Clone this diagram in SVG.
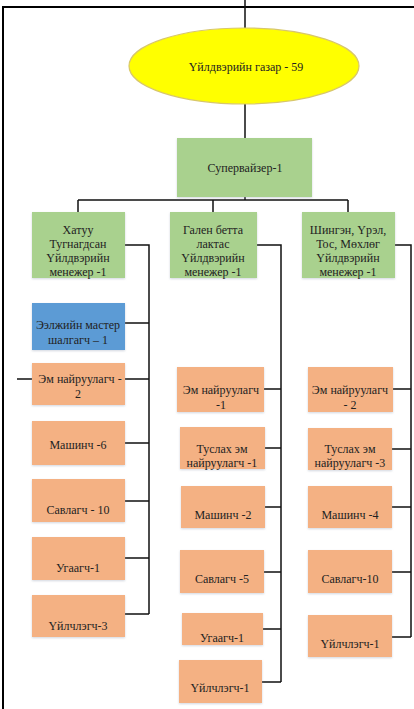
<svg xmlns="http://www.w3.org/2000/svg" width="414" height="709" viewBox="0 0 414 709">
<defs>
<filter id="sh" x="-10%" y="-10%" width="120%" height="125%">
<feDropShadow dx="0" dy="1" stdDeviation="1.2" flood-color="#9aa4b8" flood-opacity="0.45"/>
</filter>
<style>
.t{font-family:"Liberation Serif","Times New Roman",serif;font-size:12px;fill:#222;text-anchor:middle}
.g{fill:#a9d18e}
.o{fill:#f4b183}
.b{fill:#5b9bd5}
.ln{stroke:#111;stroke-width:1.5;fill:none}
.fr{stroke:#000;stroke-width:2;fill:none}
</style>
</defs>
<rect width="414" height="709" fill="#fff"/>
<g id="frame">
<path class="fr" d="M3,709 V7 H414"/>
</g>
<g id="connectors">
<path class="ln" d="M245,0 V28 M245,103 V138 M245,197 V200 M78,200 H348 M78,200 V212 M213,200 V212 M348,200 V212"/>
<path class="ln" d="M125,245 H149 V614 M125,323 H149 M125,379 H149 M17,379 H32 M125,443 H149 M125,501 H149 M125,558 H149 M125,614 H149"/>
<path class="ln" d="M257,245 H281 V682 M264,389 H281 M265,448 H281 M265,507 H281 M264,572 H281 M263,629 H281 M262,682 H281"/>
<path class="ln" d="M395,245 H411 V637 M393,389 H411 M392,449 H411 M392,507 H411 M392,572 H411 M392,637 H411"/>
</g>
<g id="n-root">
<ellipse cx="244" cy="66" rx="115" ry="38" fill="#ffff00" stroke="#d8c76a" stroke-width="1.2"/>
<text class="t" x="246" y="71">Үйлдвэрийн  газар  - 59</text>
</g>
<g id="n-supervisor">
<rect class="g" x="177" y="138" width="135" height="59" filter="url(#sh)"/>
<text class="t" x="245" y="172">Супервайзер-1</text>
</g>
<g id="n-mgr1">
<rect class="g" x="32" y="212" width="93" height="66" filter="url(#sh)"/>
<text class="t" x="78" y="234">Хатуу</text>
<text class="t" x="78" y="248">Тугнагдсан</text>
<text class="t" x="78" y="262">Үйлдвэрийн</text>
<text class="t" x="78" y="276">менежер -1</text>
</g>
<g id="n-mgr2">
<rect class="g" x="170" y="212" width="87" height="66" filter="url(#sh)"/>
<text class="t" x="213" y="234">Гален бетта</text>
<text class="t" x="213" y="248">лактас</text>
<text class="t" x="213" y="262">Үйлдвэрийн</text>
<text class="t" x="213" y="276">менежер -1</text>
</g>
<g id="n-mgr3">
<rect class="g" x="302" y="212" width="93" height="66" filter="url(#sh)"/>
<text class="t" x="348" y="234">Шингэн, Үрэл,</text>
<text class="t" x="348" y="248">Тос, Мөхлөг</text>
<text class="t" x="348" y="262">Үйлдвэрийн</text>
<text class="t" x="348" y="276">менежер -1</text>
</g>
<g id="n-l1">
<rect class="b" x="32" y="303" width="93" height="47" filter="url(#sh)"/>
<text class="t" x="78" y="329">Ээлжийн мастер</text>
<text class="t" x="78" y="344">шалгагч – 1</text>
</g>
<g id="n-l2">
<rect class="o" x="32" y="363" width="93" height="42" filter="url(#sh)"/>
<text class="t" x="80" y="383">Эм найруулагч  -</text>
<text class="t" x="78" y="398">2</text>
</g>
<g id="n-l3">
<rect class="o" x="32" y="421" width="93" height="44" filter="url(#sh)"/>
<text class="t" x="78" y="449">Машинч -6</text>
</g>
<g id="n-l4">
<rect class="o" x="32" y="479" width="93" height="43" filter="url(#sh)"/>
<text class="t" x="78" y="514">Савлагч - 10</text>
</g>
<g id="n-l5">
<rect class="o" x="32" y="537" width="93" height="43" filter="url(#sh)"/>
<text class="t" x="78" y="572">Угаагч-1</text>
</g>
<g id="n-l6">
<rect class="o" x="32" y="595" width="93" height="42" filter="url(#sh)"/>
<text class="t" x="78" y="630">Үйлчлэгч-3</text>
</g>
<g id="n-m1">
<rect class="o" x="177" y="367" width="87" height="45" filter="url(#sh)"/>
<text class="t" x="221" y="394">Эм найруулагч</text>
<text class="t" x="221" y="409">-1</text>
</g>
<g id="n-m2">
<rect class="o" x="180" y="427" width="85" height="42" filter="url(#sh)"/>
<text class="t" x="222" y="453">Туслах эм</text>
<text class="t" x="222" y="467">найруулагч -1</text>
</g>
<g id="n-m3">
<rect class="o" x="181" y="486" width="84" height="42" filter="url(#sh)"/>
<text class="t" x="223" y="519">Машинч -2</text>
</g>
<g id="n-m4">
<rect class="o" x="180" y="550" width="84" height="43" filter="url(#sh)"/>
<text class="t" x="222" y="583">Савлагч -5</text>
</g>
<g id="n-m5">
<rect class="o" x="182" y="613" width="81" height="32" filter="url(#sh)"/>
<text class="t" x="222" y="642">Угаагч-1</text>
</g>
<g id="n-m6">
<rect class="o" x="179" y="660" width="83" height="43" filter="url(#sh)"/>
<text class="t" x="220" y="692">Үйлчлэгч-1</text>
</g>
<g id="n-r1">
<rect class="o" x="308" y="367" width="85" height="45" filter="url(#sh)"/>
<text class="t" x="350" y="394">Эм найруулагч</text>
<text class="t" x="350" y="409">- 2</text>
</g>
<g id="n-r2">
<rect class="o" x="308" y="428" width="84" height="42" filter="url(#sh)"/>
<text class="t" x="350" y="453">Туслах эм</text>
<text class="t" x="350" y="467">найруулагч -3</text>
</g>
<g id="n-r3">
<rect class="o" x="308" y="486" width="84" height="42" filter="url(#sh)"/>
<text class="t" x="350" y="519">Машинч -4</text>
</g>
<g id="n-r4">
<rect class="o" x="308" y="550" width="84" height="43" filter="url(#sh)"/>
<text class="t" x="350" y="583">Савлагч-10</text>
</g>
<g id="n-r5">
<rect class="o" x="308" y="615" width="84" height="42" filter="url(#sh)"/>
<text class="t" x="350" y="648">Үйлчлэгч-1</text>
</g>
</svg>
